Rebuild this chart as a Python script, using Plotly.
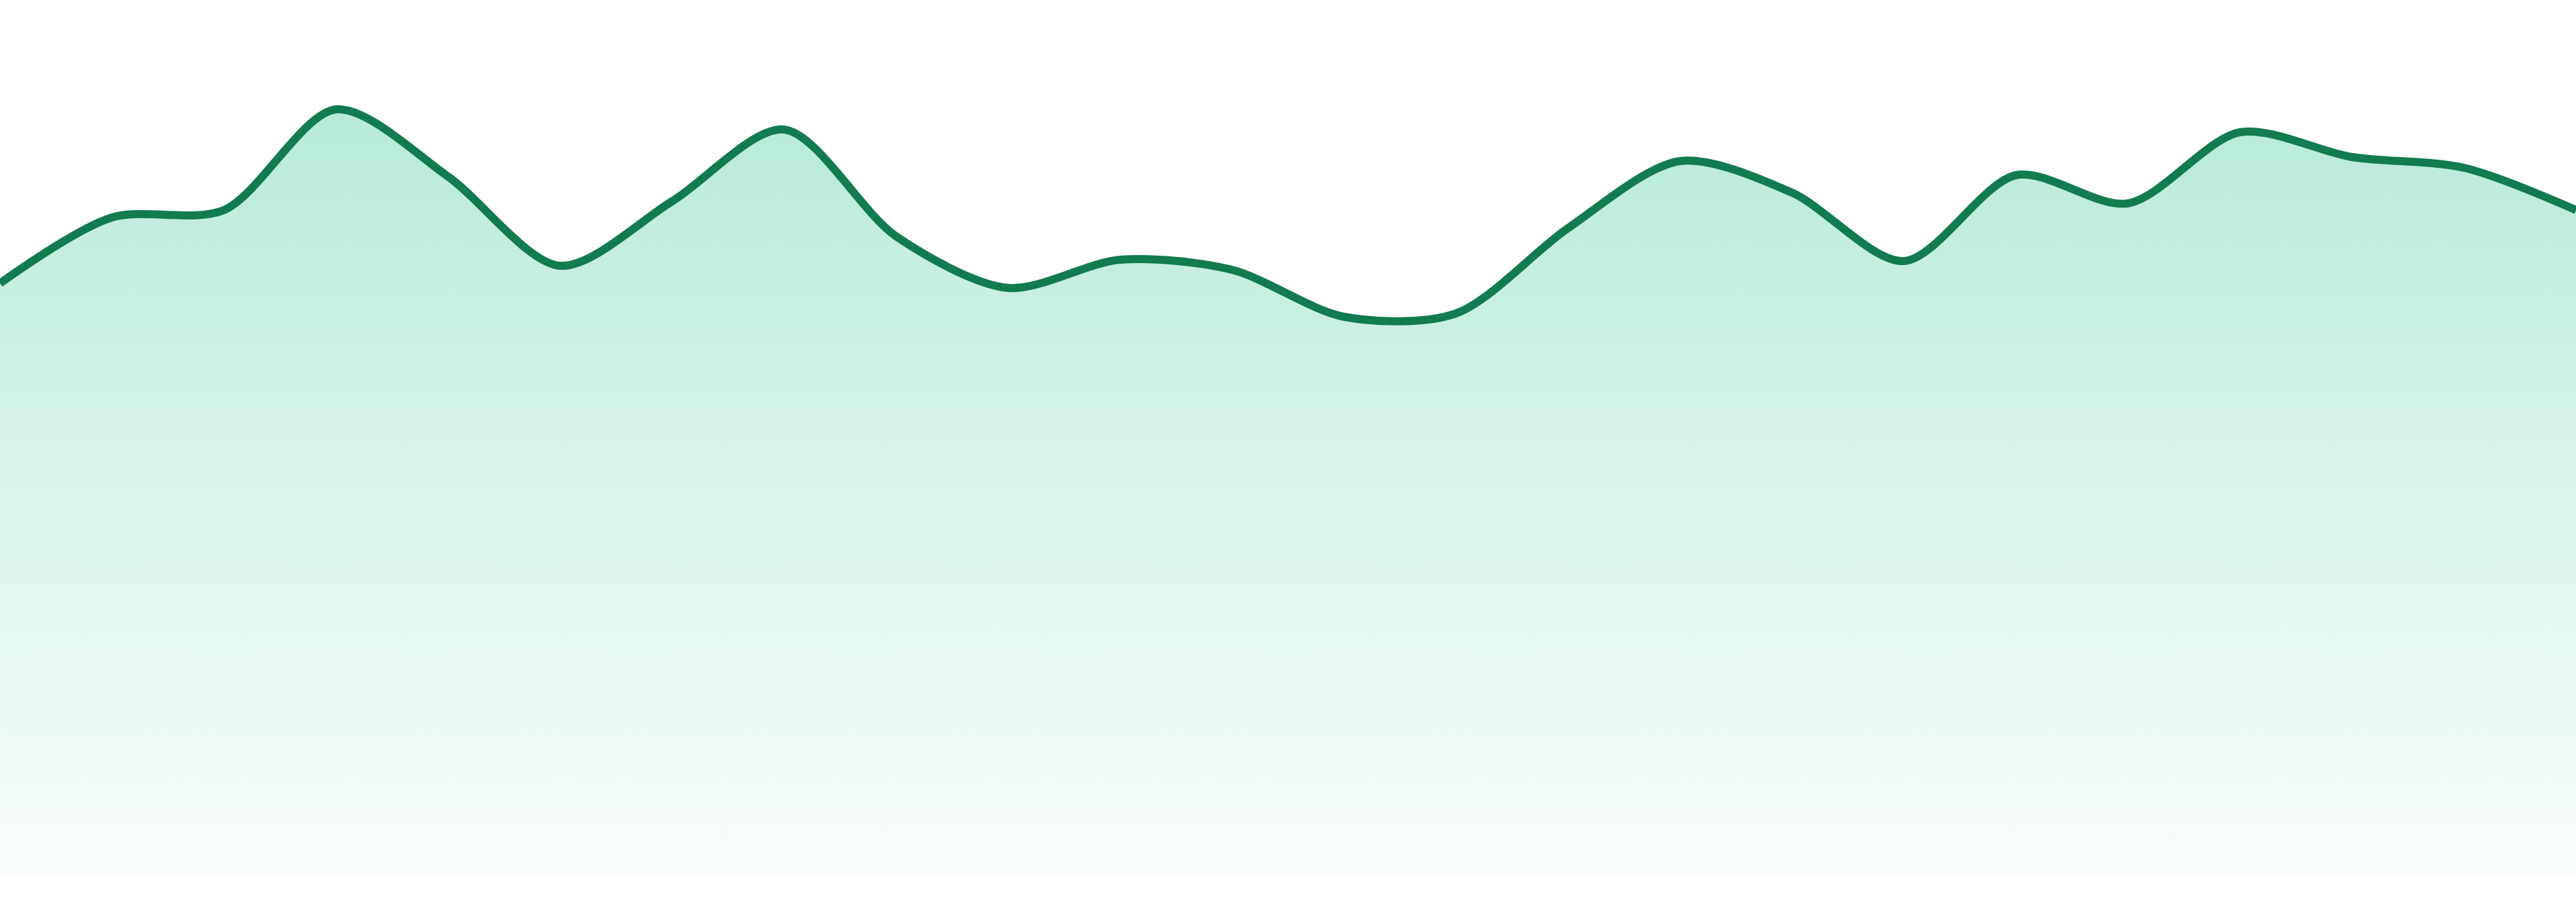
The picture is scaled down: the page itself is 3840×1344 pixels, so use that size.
import plotly.graph_objects as go

# Data
x_index = list(range(24))
values = [883, 981, 992, 1142, 1042, 909, 1005, 1112, 953, 876, 918, 903,
          833, 838, 965, 1065, 1018, 916, 1044, 1002, 1108, 1071, 1055, 992]

line_color = "#127b50"

fig = go.Figure()
fig.add_trace(go.Scatter(
    x=x_index,
    y=values,
    mode="lines",
    line=dict(color=line_color, width=12, shape="spline", smoothing=0.85),
    fill="tozeroy",
    fillgradient=dict(
        type="vertical",
        start=0,
        stop=1142,
        colorscale=[[0, "rgba(16,185,129,0.02)"],
                    [0.5, "rgba(16,185,129,0.16)"],
                    [1, "rgba(16,185,129,0.30)"]],
    ),
    hoverinfo="skip",
    showlegend=False,
))

fig.update_layout(
    width=3840,
    height=1344,
    margin=dict(l=0, r=0, t=0, b=39),
    paper_bgcolor="white",
    plot_bgcolor="white",
    xaxis=dict(visible=False, range=[0, 23], fixedrange=True),
    yaxis=dict(visible=False, range=[0, 1305], fixedrange=True),
)

fig.write_html(
    "out.html",
    config={"displayModeBar": False},
    post_script="document.body.style.margin='0px';document.body.style.overflow='hidden';",
)
